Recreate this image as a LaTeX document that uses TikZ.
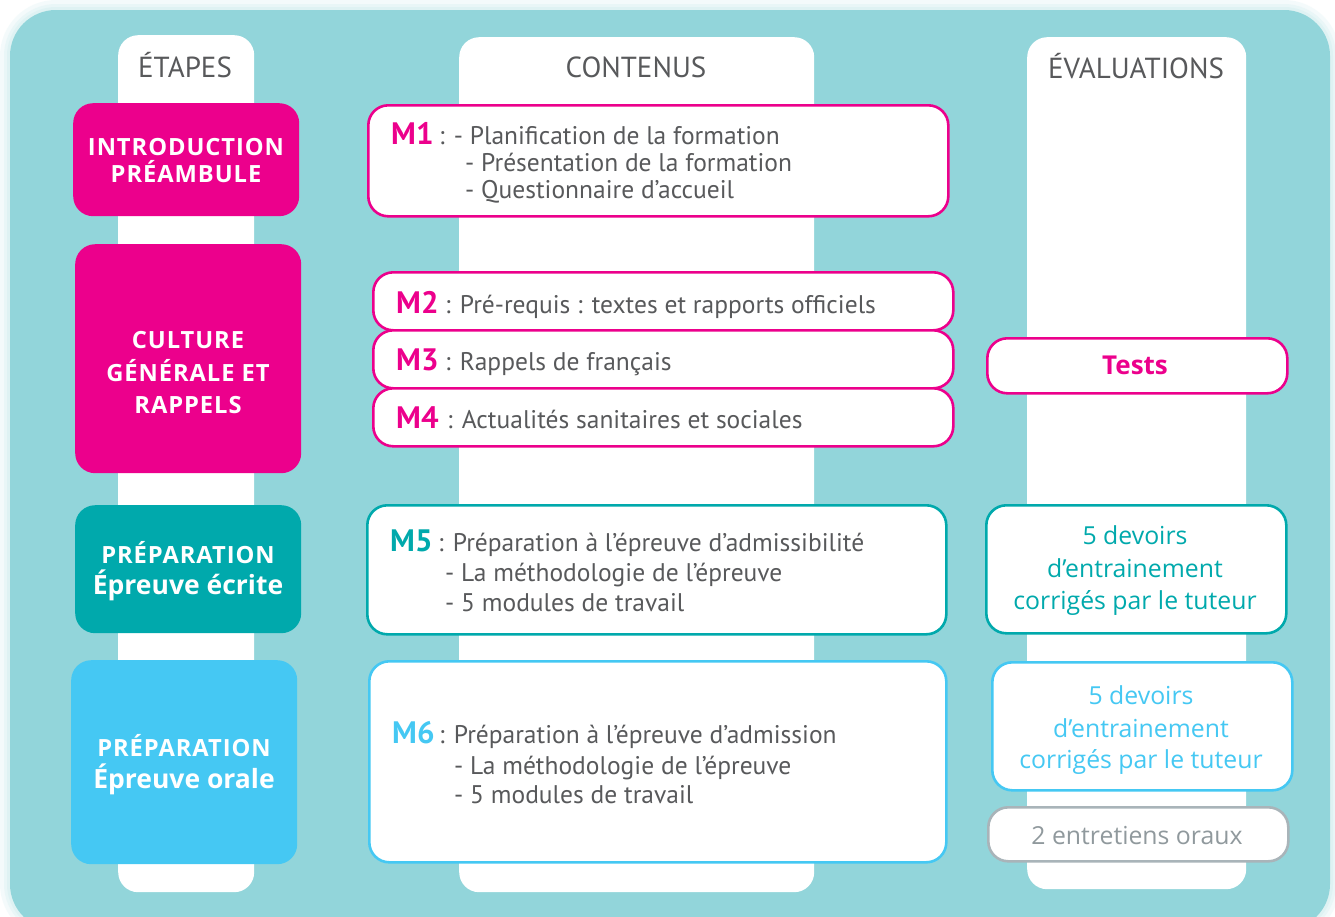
\documentclass[tikz,border=0pt]{standalone}
\usepackage{fontspec}
\setmainfont{PT Sans}
\newfontfamily\osans{Open Sans}
\newfontfamily\osansls[LetterSpace=4]{Open Sans}
\definecolor{bgteal}{HTML}{92D5DA}
\definecolor{mpink}{HTML}{EC008C}
\definecolor{mteal}{HTML}{00A9AC}
\definecolor{mblue}{HTML}{45C8F3}
\definecolor{mgray}{HTML}{58595B}
\definecolor{lgray}{HTML}{A9B4B9}
\definecolor{glow}{HTML}{D6EFF1}
\tikzset{
  colbox/.style={fill=white, rounded corners=20pt, inner sep=0pt, anchor=north west},
  stagebox/.style={fill=#1, rounded corners=20pt, inner sep=0pt, anchor=north west},
  modbox/.style={draw=#1, fill=white, line width=2.6pt, rounded corners=20pt, inner sep=0pt, anchor=north west},
  head/.style={text=mgray, font=\fontsize{29}{33}\selectfont, anchor=base, inner sep=0pt},
  stagetxt/.style={text=white, font=\osansls\bfseries\fontsize{23.7}{27}\selectfont, anchor=base, inner sep=0pt},
  stagetxtb/.style={text=white, font=\osans\bfseries\fontsize{26.5}{30}\selectfont, anchor=base, inner sep=0pt},
  mlab/.style={text=#1, font=\bfseries\fontsize{31}{35}\selectfont, anchor=base west, inner sep=0pt},
  mtxt/.style={text=mgray, font=\fontsize{25.5}{30}\selectfont, anchor=base west, inner sep=0pt},
  evtxt/.style={text=#1, font=\osans\fontsize{24.8}{28}\selectfont, anchor=base, inner sep=0pt},
}
\begin{document}
\begin{tikzpicture}[x=1pt,y=-1pt]
\useasboundingbox (0,0) rectangle (1335,916);
\fill[white] (0,0) rectangle (1335,916);
% glow
\foreach \w/\o in {20/0.25,12/0.35,6/0.5}{
  \draw[glow, line width=\w pt, opacity=\o, rounded corners=46pt] (10,10) rectangle (1330,930);
}
\fill[bgteal, rounded corners=46pt] (10,10) rectangle (1330,930);

% columns
\node[colbox, minimum width=136, minimum height=857] (colA) at (118,35) {};
\node[colbox, minimum width=355, minimum height=855] (colB) at (459,37) {};
\node[colbox, minimum width=219, minimum height=852] (colC) at (1027,37) {};
\node[head] (hA) at (185,77) {ÉTAPES};
\node[head] (hB) at (636,77) {CONTENUS};
\node[head] (hC) at (1136,78) {ÉVALUATIONS};

% stage boxes
\node[stagebox=mpink, minimum width=226, minimum height=113] (s1) at (73,103) {};
\node[stagetxt] (s1a) at (186,155) {INTRODUCTION};
\node[stagetxt] (s1b) at (186,182) {PRÉAMBULE};

\node[stagebox=mpink, minimum width=226, minimum height=229] (s2) at (75,244) {};
\node[stagetxt] (s2a) at (188,348) {CULTURE};
\node[stagetxt] (s2b) at (188,381) {GÉNÉRALE ET};
\node[stagetxt] (s2c) at (188,413) {RAPPELS};

\node[stagebox=mteal, minimum width=226, minimum height=128] (s3) at (75,505) {};
\node[stagetxt] (s3a) at (188,563) {PRÉPARATION};
\node[stagetxtb] (s3b) at (188,594) {Épreuve écrite};

\node[stagebox=mblue, minimum width=226, minimum height=204] (s4) at (71,660) {};
\node[stagetxt] (s4a) at (184,756) {PRÉPARATION};
\node[stagetxtb] (s4b) at (184,788) {Épreuve orale};

% module boxes
\node[modbox=mpink, minimum width=580, minimum height=111] (m1) at (367,104) {};
\node[mlab=mpink] (m1l) at (391,144) {M1};
\node[mtxt] (m1c) at (439,144) {: - Planification de la formation};
\node[mtxt] (m1d) at (465,171) {- Présentation de la formation};
\node[mtxt] (m1e) at (465,198) {- Questionnaire d’accueil};

\node[modbox=mpink, minimum width=580, minimum height=58] (m2) at (372,271) {};
\node[mlab=mpink] (m2l) at (396,313) {M2};
\node[mtxt] (m2c) at (445,313) {: Pré-requis : textes et rapports officiels};

\node[modbox=mpink, minimum width=580, minimum height=58] (m3) at (372,329) {};
\node[mlab=mpink] (m3l) at (396,370) {M3};
\node[mtxt] (m3c) at (445,370) {: Rappels de français};

\node[modbox=mpink, minimum width=580, minimum height=58] (m4) at (372,387) {};
\node[mlab=mpink] (m4l) at (396,428) {M4};
\node[mtxt] (m4c) at (447,428) {: Actualités sanitaires et sociales};

\node[modbox=mteal, minimum width=579, minimum height=129] (m5) at (366,504) {};
\node[mlab=mteal] (m5l) at (390,551) {M5};
\node[mtxt] (m5c) at (438,551) {: Préparation à l’épreuve d’admissibilité};
\node[mtxt] (m5d) at (445,581) {- La méthodologie de l’épreuve};
\node[mtxt] (m5e) at (445,611) {- 5 modules de travail};

\node[modbox=mblue, minimum width=577, minimum height=201] (m6) at (368,660) {};
\node[mlab=mblue] (m6l) at (392,743) {M6};
\node[mtxt] (m6c) at (439,743) {: Préparation à l’épreuve d’admission};
\node[mtxt] (m6d) at (454,774) {- La méthodologie de l’épreuve};
\node[mtxt] (m6e) at (454,803) {- 5 modules de travail};

% evaluation boxes
\node[modbox=mpink, minimum width=300, minimum height=55] (e1) at (986,337) {};
\node[text=mpink, font=\osans\bfseries\fontsize{26}{30}\selectfont, anchor=base, inner sep=0pt] (e1t) at (1135,374) {Tests};

\node[modbox=mteal, minimum width=300, minimum height=128] (e2) at (985,504) {};
\node[evtxt=mteal] (e2a) at (1135,544) {5 devoirs};
\node[evtxt=mteal] (e2b) at (1135,577) {d’entrainement};
\node[evtxt=mteal] (e2c) at (1135,609) {corrigés par le tuteur};

\node[modbox=mblue, minimum width=300, minimum height=128] (e3) at (991,661) {};
\node[evtxt=mblue] (e3a) at (1141,704) {5 devoirs};
\node[evtxt=mblue] (e3b) at (1141,737) {d’entrainement};
\node[evtxt=mblue] (e3c) at (1141,768) {corrigés par le tuteur};

\node[modbox=lgray, minimum width=300, minimum height=54] (e4) at (987,806) {};
\node[evtxt=lgray!85!black] (e4a) at (1137,844) {2 entretiens oraux};
\end{tikzpicture}
\end{document}
